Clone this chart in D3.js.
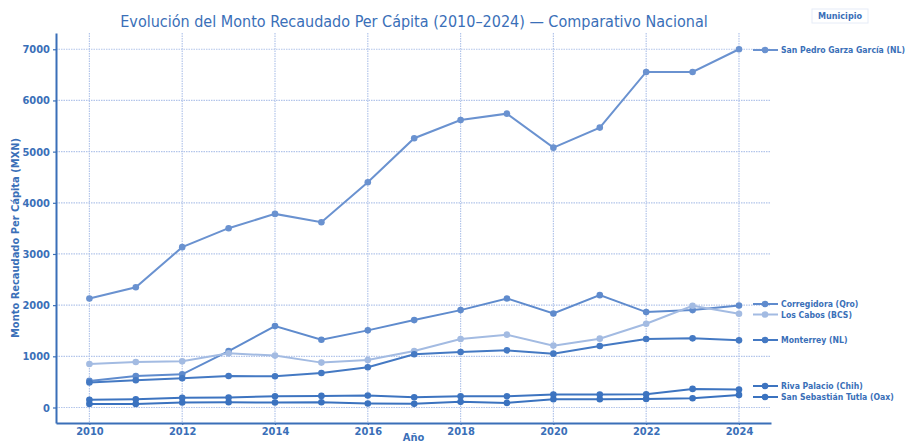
<!DOCTYPE html>
<html>
<head>
<meta charset="utf-8">
<script src="https://cdn.jsdelivr.net/npm/d3@7"></script>
<style>
  body { margin: 0; background: #fff; }
  text { font-family: "DejaVu Sans Condensed", "DejaVu Sans", sans-serif; }
</style>
</head>
<body>
<div id="chart"></div>
<script>
// Data
const years = d3.range(2010, 2025);
const yTicks = [0, 1000, 2000, 3000, 4000, 5000, 6000, 7000];
const xTicks = [2010, 2012, 2014, 2016, 2018, 2020, 2022, 2024];

const sanPedro = [2130, 2350, 3133, 3504, 3783, 3621, 4402, 5262, 5619, 5742, 5078, 5469, 6557, 6557, 7000];
const corregidora = [520, 616, 649, 1103, 1591, 1325, 1507, 1708, 1903, 2131, 1838, 2195, 1864, 1903, 1994];
const losCabos = [850, 889, 902, 1058, 1014, 877, 928, 1103, 1337, 1423, 1209, 1345, 1637, 1988, 1832];
const monterrey = [487, 532, 571, 616, 610, 674, 786, 1039, 1084, 1117, 1052, 1201, 1337, 1351, 1312];
const rivaPalacio = [150, 160, 190, 195, 220, 227, 234, 201, 220, 220, 253, 253, 259, 363, 351];
const sanSebastian = [70, 70, 97, 103, 97, 103, 78, 71, 110, 90, 162, 162, 168, 181, 246];

const series = [
    { name: "San Pedro Garza García (NL)", values: sanPedro, color: "#6a92d0", labelY: 50 },
    { name: "Corregidora (Qro)", values: corregidora, color: "#5f8bcd", labelY: 304 },
    { name: "Los Cabos (BCS)", values: losCabos, color: "#a3bbe2", labelY: 314.5 },
    { name: "Monterrey (NL)", values: monterrey, color: "#4479c3", labelY: 340 },
    { name: "Riva Palacio (Chih)", values: rivaPalacio, color: "#3d74c0", labelY: 386 },
    { name: "San Sebastián Tutla (Oax)", values: sanSebastian, color: "#3a72bf", labelY: 397 }
];

const W = 906, H = 445;
const plot = { left: 56, right: 771, top: 33, bottom: 423 };
const axisColor = "#3a6fb8";
const gridColor = "#b3c5ea";

const svg = d3.select("#chart")
    .append("svg")
    .attr("width", W)
    .attr("height", H);

// Scales
const x = d3.scaleLinear()
    .domain([2009.28, 2024.69])
    .range([plot.left, plot.right]);

const y = d3.scaleLinear()
    .domain([-303, 7318])
    .range([plot.bottom, plot.top]);

// Grid
svg.append("g")
    .selectAll("line")
    .data(yTicks)
    .join("line")
    .attr("x1", plot.left)
    .attr("x2", plot.right)
    .attr("y1", d => y(d))
    .attr("y2", d => y(d))
    .attr("stroke", gridColor)
    .attr("stroke-width", 1.2)
    .attr("stroke-dasharray", "1.5,1");

svg.append("g")
    .selectAll("line")
    .data(xTicks)
    .join("line")
    .attr("x1", d => x(d))
    .attr("x2", d => x(d))
    .attr("y1", plot.top)
    .attr("y2", plot.bottom)
    .attr("stroke", gridColor)
    .attr("stroke-width", 1.2)
    .attr("stroke-dasharray", "1.5,1");

// Axes
const xAxis = svg.append("g")
    .attr("transform", `translate(0,${plot.bottom})`)
    .call(d3.axisBottom(x).tickValues(xTicks).tickFormat(d3.format("d")).tickSize(2).tickPadding(2).tickSizeOuter(0));

const yAxis = svg.append("g")
    .attr("transform", `translate(${plot.left},0)`)
    .call(d3.axisLeft(y).tickValues(yTicks).tickFormat(d3.format("d")).tickSize(3).tickSizeOuter(0));

[xAxis, yAxis].forEach(a => {
    a.select(".domain").attr("stroke", axisColor).attr("stroke-width", 2);
    a.selectAll(".tick line").attr("stroke", axisColor).attr("stroke-width", 1.2);
    a.selectAll(".tick text")
        .attr("fill", axisColor)
        .style("font-size", "11px")
        .style("font-weight", "bold")
        .style("font-family", '"DejaVu Sans Condensed", "DejaVu Sans", sans-serif');
});
yAxis.selectAll(".tick text").attr("x", -6);

// Lines
const line = d3.line()
    .x((d, i) => x(years[i]))
    .y(d => y(d));

const g = svg.append("g");
series.forEach(s => {
    g.append("path")
        .datum(s.values)
        .attr("fill", "none")
        .attr("stroke", s.color)
        .attr("stroke-width", 2)
        .attr("d", line);
    g.selectAll(null)
        .data(s.values)
        .join("circle")
        .attr("cx", (d, i) => x(years[i]))
        .attr("cy", d => y(d))
        .attr("r", 3.3)
        .attr("fill", s.color);
});

// Legend / end labels
const legend = svg.append("g");
legend.append("rect")
    .attr("x", 812)
    .attr("y", 9)
    .attr("width", 56)
    .attr("height", 14)
    .attr("fill", "none")
    .attr("stroke", "#e6ecf7")
    .attr("stroke-width", 1);
legend.append("text")
    .attr("x", 840)
    .attr("y", 19)
    .attr("text-anchor", "middle")
    .attr("fill", axisColor)
    .style("font-size", "9px")
    .style("font-weight", "bold")
    .text("Municipio");

series.forEach(s => {
    legend.append("line")
        .attr("x1", 753)
        .attr("x2", 778)
        .attr("y1", s.labelY)
        .attr("y2", s.labelY)
        .attr("stroke", s.color)
        .attr("stroke-width", 2);
    legend.append("circle")
        .attr("cx", 765)
        .attr("cy", s.labelY)
        .attr("r", 3.3)
        .attr("fill", s.color);
    legend.append("text")
        .attr("x", 781)
        .attr("y", s.labelY)
        .attr("dy", "0.35em")
        .attr("fill", axisColor)
        .style("font-size", "8.6px")
        .style("font-weight", "bold")
        .text(s.name);
});

// Titles
svg.append("text")
    .attr("x", 414)
    .attr("y", 27)
    .attr("text-anchor", "middle")
    .attr("fill", axisColor)
    .style("font-size", "16px")
    .text("Evolución del Monto Recaudado Per Cápita (2010–2024) — Comparativo Nacional");

svg.append("text")
    .attr("transform", `translate(19,${(plot.top + plot.bottom) / 2 + 10}) rotate(-90)`)
    .attr("text-anchor", "middle")
    .attr("fill", axisColor)
    .style("font-size", "11px")
    .style("font-weight", "bold")
    .text("Monto Recaudado Per Cápita (MXN)");

svg.append("text")
    .attr("x", (plot.left + plot.right) / 2)
    .attr("y", 441)
    .attr("text-anchor", "middle")
    .attr("fill", axisColor)
    .style("font-size", "11px")
    .style("font-weight", "bold")
    .text("Año");
</script>
</body>
</html>
